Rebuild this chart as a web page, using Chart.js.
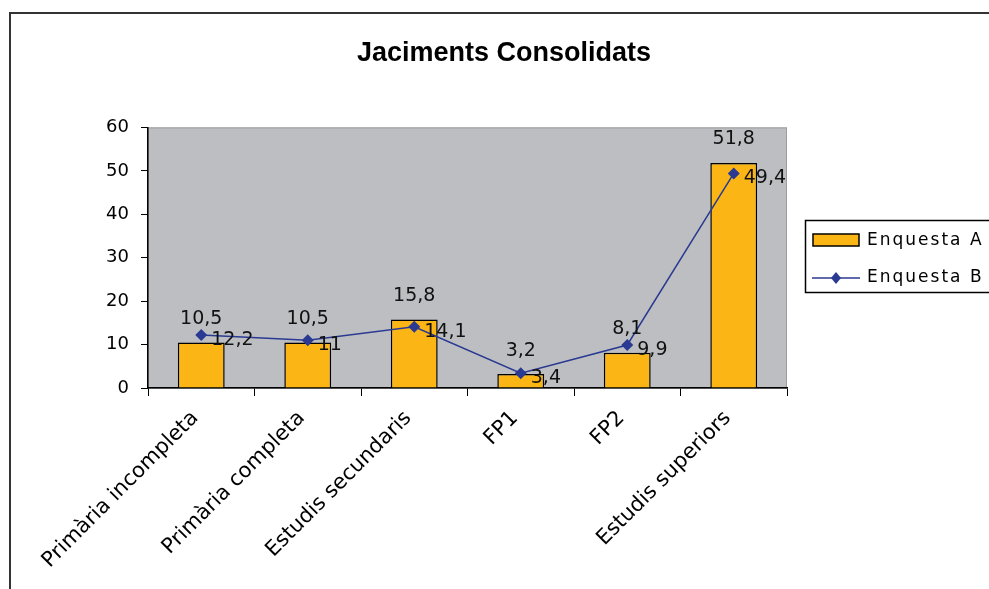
<!DOCTYPE html>
<html>
<head>
<meta charset="utf-8">
<script src="https://cdn.jsdelivr.net/npm/chart.js@4"></script>
<style>
  html, body { margin: 0; padding: 0; background: #fff; overflow: hidden; }
  #wrap { position: absolute; left: 0; top: 0; }
  #frame { position: absolute; left: 9px; top: 12px; width: 1100px; height: 700px; border: 2px solid #333; pointer-events: none; }
</style>
</head>
<body>
<div id="wrap"><canvas id="myChart" width="1008" height="589"></canvas></div>
<div id="frame"></div>
<script>
const categories = ['Primària incompleta', 'Primària completa', 'Estudis secundaris', 'FP1', 'FP2', 'Estudis superiors']
const enquestaA = [10.5, 10.5, 15.8, 3.2, 8.1, 51.8]
const enquestaB = [12.2, 11, 14.1, 3.4, 9.9, 49.4]
const seriesNames = ['Enquesta A', 'Enquesta B']
const yTicks = [0, 10, 20, 30, 40, 50, 60]

const font = 'DejaVu Sans, Verdana, sans-serif'
const titleFont = 'Liberation Sans, Arial, sans-serif'
const barColor = '#fbb616'
const lineColor = '#2a3a92'

const fmt = (v) => String(v).replace('.', ',')

// gray plot area like the old Excel charts
const plotBg = {
  id: 'plotBg',
  beforeDraw(chart) {
    const { ctx, chartArea: a } = chart
    ctx.save()
    ctx.fillStyle = '#bcbec1'
    ctx.fillRect(a.left, a.top, a.right - a.left, a.bottom - a.top)
    ctx.strokeStyle = '#9a9c9e'
    ctx.lineWidth = 1
    ctx.strokeRect(a.left + 0.5, a.top + 0.5, a.right - a.left - 1, a.bottom - a.top)
    ctx.restore()
  }
}

// value labels: above bars, right of line points
const valueLabels = {
  id: 'valueLabels',
  afterDatasetsDraw(chart) {
    const ctx = chart.ctx
    ctx.save()
    ctx.fillStyle = '#111'
    ctx.font = '19px ' + font
    chart.getDatasetMeta(0).data.forEach((el, i) => {
      ctx.textAlign = 'center'
      ctx.textBaseline = 'bottom'
      ctx.fillText(fmt(enquestaA[i]), el.x, el.y - 14)
    })
    chart.getDatasetMeta(1).data.forEach((el, i) => {
      ctx.textAlign = 'left'
      ctx.textBaseline = 'middle'
      ctx.fillText(fmt(enquestaB[i]), el.x + 10, el.y + 5)
    })
    ctx.restore()
  }
}

// legend box on the right, cut by the window edge
const sideLegend = {
  id: 'sideLegend',
  afterDraw(chart) {
    const ctx = chart.ctx
    const x = 805, y = 220
    ctx.save()
    ctx.fillStyle = '#fff'
    ctx.fillRect(x, y, 300, 72)
    ctx.strokeStyle = '#000'
    ctx.lineWidth = 1.5
    ctx.strokeRect(x + 0.5, y + 0.5, 300, 72)
    // bar swatch
    ctx.fillStyle = barColor
    ctx.fillRect(x + 8, y + 14, 46, 12)
    ctx.strokeRect(x + 8, y + 14, 46, 12)
    // line swatch
    ctx.strokeStyle = lineColor
    ctx.lineWidth = 1.5
    ctx.beginPath()
    ctx.moveTo(x + 7, y + 58)
    ctx.lineTo(x + 55, y + 58)
    ctx.stroke()
    ctx.fillStyle = lineColor
    ctx.beginPath()
    ctx.moveTo(x + 31, y + 52)
    ctx.lineTo(x + 36, y + 58)
    ctx.lineTo(x + 31, y + 64)
    ctx.lineTo(x + 26, y + 58)
    ctx.closePath()
    ctx.fill()
    ctx.fillStyle = '#000'
    ctx.font = '17px ' + font
    ctx.letterSpacing = '2px'
    ctx.textBaseline = 'middle'
    ctx.fillText(seriesNames[0], x + 62, y + 21)
    ctx.fillText(seriesNames[1], x + 62, y + 58)
    ctx.restore()
  }
}

const ctx = document.getElementById('myChart')

new Chart(ctx, {
  type: 'bar',
  data: {
    labels: categories,
    datasets: [
      {
        label: seriesNames[0],
        data: enquestaA,
        backgroundColor: barColor,
        borderColor: '#000',
        borderWidth: 1.5,
        categoryPercentage: 1,
        barPercentage: 0.44,
        order: 1
      },
      {
        type: 'line',
        label: seriesNames[1],
        data: enquestaB,
        borderColor: lineColor,
        backgroundColor: lineColor,
        borderWidth: 1.5,
        pointStyle: 'rectRot',
        pointRadius: 6,
        pointBorderWidth: 0,
        tension: 0,
        order: 0
      }
    ]
  },
  options: {
    responsive: false,
    animation: false,
    layout: { padding: 0 },
    scales: {
      x: {
        grid: { display: true, drawOnChartArea: false, drawTicks: true, tickLength: 8, color: '#000', offset: true },
        border: { display: true, color: '#000', width: 1.5 },
        ticks: {
          color: '#000',
          font: { family: font, size: 21 },
          minRotation: 45,
          maxRotation: 45,
          labelOffset: -6,
          padding: 10
        },
        afterFit: (s) => { s.height = 201 }
      },
      y: {
        min: 0,
        max: 60,
        afterBuildTicks: (s) => { s.ticks = yTicks.map((v) => ({ value: v })) },
        grid: { display: true, drawOnChartArea: false, drawTicks: true, tickLength: 7, color: '#000' },
        border: { display: true, color: '#000', width: 1.5 },
        ticks: { color: '#000', font: { family: font, size: 18 }, padding: 12 },
        afterFit: (s) => { s.width = 148 }
      },
      y2: {
        position: 'right',
        display: true,
        grid: { display: false },
        border: { display: false },
        ticks: { display: false },
        afterFit: (s) => { s.width = 221 }
      }
    },
    plugins: {
      legend: { display: false },
      tooltip: { enabled: false },
      title: {
        display: true,
        text: 'Jaciments Consolidats',
        color: '#000',
        font: { family: titleFont, size: 27, weight: 'bold' },
        padding: { top: 37, bottom: 58 }
      }
    }
  },
  plugins: [plotBg, valueLabels, sideLegend]
})
</script>
</body>
</html>
